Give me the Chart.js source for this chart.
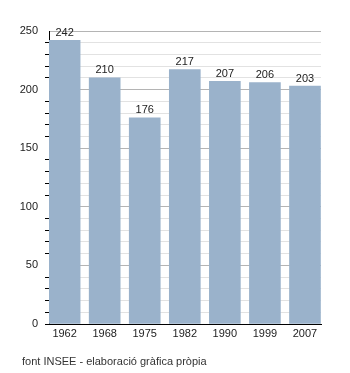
<!DOCTYPE html>
<html>
<head>
<meta charset="utf-8">
<script src="https://cdn.jsdelivr.net/npm/chart.js@4"></script>
<style>
  body { margin: 0; background: #fff; }
  canvas { display: block; }
</style>
</head>
<body>
<canvas id="chart" width="350" height="373"></canvas>
<script>
const years = ['1962', '1968', '1975', '1982', '1990', '1999', '2007'];
const values = [242, 210, 176, 217, 207, 206, 203];
const yMax = 250;
const footText = 'font INSEE - elaboració gràfica pròpia';

const FONT = 'Liberation Sans, Arial, sans-serif';

// value labels above each bar + footer text
const labelsPlugin = {
    id: 'labels',
    afterDatasetsDraw(chart) {
        const ctx = chart.ctx;
        const meta = chart.getDatasetMeta(0);
        ctx.save();
        ctx.font = '11px ' + FONT;
        ctx.fillStyle = '#222';
        ctx.textAlign = 'center';
        ctx.textBaseline = 'bottom';
        meta.data.forEach((bar, i) => {
            ctx.fillText(values[i], bar.x, bar.y - 2);
        });
        ctx.textAlign = 'left';
        ctx.textBaseline = 'middle';
        ctx.fillStyle = '#333';
        ctx.fillText(footText, 22, 362);
        ctx.restore();
    }
};

new Chart(document.getElementById('chart').getContext('2d'), {
    type: 'bar',
    data: {
        datasets: [{
            data: values.map((v, i) => ({ x: i, y: v })),
            backgroundColor: '#9ab2cb',
            borderWidth: 0,
            barThickness: 31
        }]
    },
    options: {
        responsive: false,
        animation: false,
        layout: { padding: { top: 31, right: 29, bottom: 0, left: 0 } },
        plugins: {
            legend: { display: false },
            tooltip: { enabled: false }
        },
        scales: {
            x: {
                type: 'linear',
                offset: false,
                min: -0.39,
                max: 6.4,
                afterBuildTicks: scale => {
                    scale.ticks = years.map((_, i) => ({ value: i }));
                },
                afterFit: scale => { scale.height = 49; },
                grid: { offset: false, color: 'rgba(0,0,0,0)', drawTicks: false },
                border: { color: '#000', width: 1 },
                ticks: {
                    padding: 3,
                    color: '#222',
                    font: { family: FONT, size: 11 },
                    maxRotation: 0,
                    callback: v => years[v]
                }
            },
            y: {
                min: 0,
                max: yMax,
                afterFit: scale => { scale.width = 49; },
                grid: {
                    color: c => c.tick.value % 50 === 0 ? '#b4b4b4' : '#e2e2e2',
                    tickColor: c => (c.tick.value % 50 === 0 && c.tick.value !== 0) ? 'rgba(0,0,0,0)' : '#000',
                    tickLength: 4
                },
                border: { color: '#000', width: 1 },
                ticks: {
                    stepSize: 10,
                    padding: 7,
                    color: '#222',
                    font: { family: FONT, size: 11 },
                    autoSkip: false,
                    callback: v => v % 50 === 0 ? v : ''
                }
            }
        }
    },
    plugins: [labelsPlugin]
});
</script>
</body>
</html>
